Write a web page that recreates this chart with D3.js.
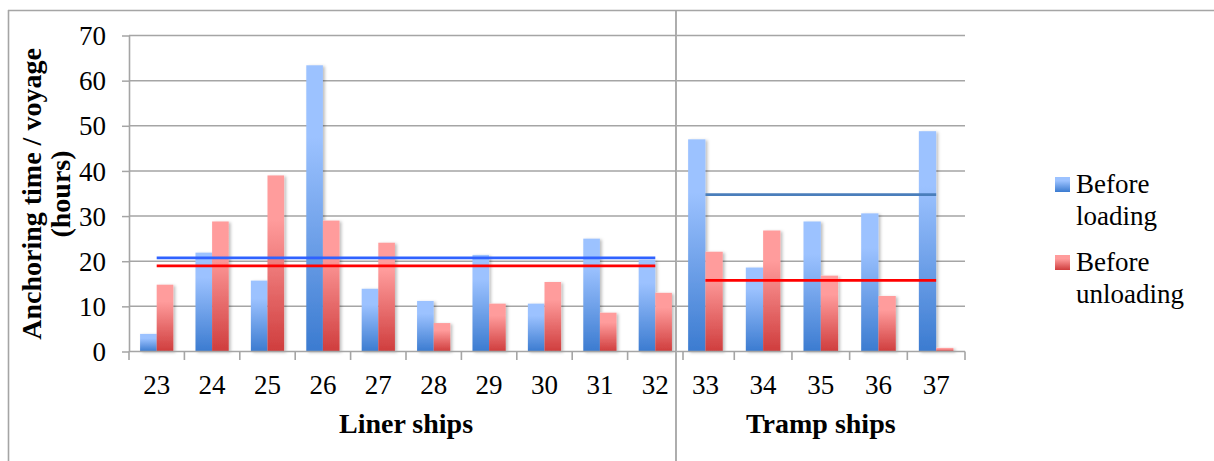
<!DOCTYPE html>
<html>
<head>
<meta charset="utf-8">
<script src="https://cdn.jsdelivr.net/npm/d3@7"></script>
<style>
  html, body { margin: 0; padding: 0; background: #fff; }
  svg { display: block; }
  text { font-family: "Liberation Serif", "Times New Roman", serif; fill: #000; }
</style>
</head>
<body>
<svg id="chart" width="1214" height="461"></svg>
<script>
// Anchoring time per voyage (hours), by ship
const linerShips = ["23", "24", "25", "26", "27", "28", "29", "30", "31", "32"];
const trampShips = ["33", "34", "35", "36", "37"];
const linerBeforeLoading   = [3.9, 21.9, 15.7, 63.4, 13.9, 11.2, 21.4, 10.6, 25.0, 20.3];
const linerBeforeUnloading = [14.8, 28.8, 39.0, 29.0, 24.1, 6.3, 10.6, 15.4, 8.6, 13.0];
const trampBeforeLoading   = [47.0, 18.6, 28.8, 30.6, 48.8];
const trampBeforeUnloading = [22.1, 26.8, 16.8, 12.3, 0.8];
const seriesNames = ["Before loading", "Before unloading"];
const yTicks = [0, 10, 20, 30, 40, 50, 60, 70];
const groupTitles = ["Liner ships", "Tramp ships"];
const yTitle = ["Anchoring time / voyage", "(hours)"];

const svg = d3.select("#chart");
const grid = "#a5a5a5";
const serif = "'Liberation Serif', 'Times New Roman', serif";

// gradients and soft shadow for the bars
const defs = svg.append("defs");
function grad(id, top, bottom) {
  const g = defs.append("linearGradient").attr("id", id)
    .attr("x1", 0).attr("y1", 0).attr("x2", 0).attr("y2", 1);
  g.append("stop").attr("offset", "0%").attr("stop-color", top);
  g.append("stop").attr("offset", "25%").attr("stop-color", top);
  g.append("stop").attr("offset", "100%").attr("stop-color", bottom);
}
grad("gBlue", "#9cc2ff", "#3b7bd0");
grad("gRed", "#ff9c9c", "#cf3d3d");
const fl = defs.append("filter").attr("id", "shadow")
  .attr("x", "-30%").attr("y", "-10%").attr("width", "160%").attr("height", "130%");
fl.append("feDropShadow").attr("dx", 2).attr("dy", 1).attr("stdDeviation", 1.6)
  .attr("flood-color", "#000").attr("flood-opacity", 0.25);
const fills = ["url(#gBlue)", "url(#gRed)"];

// outer frame (top and left edges) and the group divider
const dividerX = 676;
svg.append("line").attr("x1", 8).attr("x2", 1214).attr("y1", 10.5).attr("y2", 10.5)
  .attr("stroke", grid).attr("stroke-width", 1.6);
svg.append("line").attr("x1", 8.5).attr("x2", 8.5).attr("y1", 10).attr("y2", 461)
  .attr("stroke", grid).attr("stroke-width", 1.6);

// scales
const y = d3.scaleLinear().domain([0, 70]).range([351.5, 35.5]);
const groups = [
  { ships: linerShips, load: linerBeforeLoading, unload: linerBeforeUnloading,
    range: [129, 683], gridRange: [129, dividerX], title: groupTitles[0],
    meanColors: ["#2f62ff", "#ff0000"] },
  { ships: trampShips, load: trampBeforeLoading, unload: trampBeforeUnloading,
    range: [dividerX + 0.6, 965], gridRange: [dividerX + 1, 965], title: groupTitles[1],
    meanColors: ["#4a7ebb", "#ff0000"] }
];

groups.forEach(gr => {
  const xb = d3.scaleBand().domain(gr.ships).range(gr.range).padding(0);
  const x = d3.scaleBand().domain(gr.ships).range(gr.range).paddingInner(0.4).paddingOuter(0.2);
  const xs = d3.scaleBand().domain(seriesNames).range([0, x.bandwidth()]);

  // horizontal gridlines
  svg.append("g").selectAll("line").data(yTicks.slice(1)).join("line")
    .attr("x1", gr.gridRange[0]).attr("x2", gr.gridRange[1])
    .attr("y1", d => y(d)).attr("y2", d => y(d))
    .attr("stroke", grid).attr("stroke-width", 1.5);

  // bars
  const rows = gr.ships.map((s, i) => ({ ship: s, vals: [gr.load[i], gr.unload[i]] }));
  const bars = svg.append("g").attr("filter", "url(#shadow)");
  rows.forEach(r => {
    r.vals.forEach((v, k) => {
      bars.append("rect")
        .attr("x", x(r.ship) + xs(seriesNames[k]))
        .attr("width", xs.bandwidth())
        .attr("y", y(v))
        .attr("height", y(0) - y(v))
        .attr("fill", fills[k]);
    });
  });

  // x axis line and boundary ticks
  svg.append("line").attr("x1", gr.gridRange[0]).attr("x2", gr.gridRange[1])
    .attr("y1", y(0)).attr("y2", y(0)).attr("stroke", grid).attr("stroke-width", 1.6);
  const bounds = gr.ships.map(s => xb(s)).concat([xb(gr.ships[gr.ships.length - 1]) + xb.bandwidth()]);
  svg.append("g").selectAll("line").data(bounds.filter(b => Math.abs(b - dividerX) > 4)).join("line")
    .attr("x1", d => d).attr("x2", d => d)
    .attr("y1", y(0)).attr("y2", y(0) + 8.5)
    .attr("stroke", grid).attr("stroke-width", 1.6);

  // category labels
  const ax = d3.axisBottom(xb).tickSize(0).tickPadding(0);
  const axg = svg.append("g").attr("transform", `translate(0,${y(0)})`).call(ax)
    .attr("font-family", serif);
  axg.select(".domain").remove();
  axg.selectAll("text").attr("y", 42.5).attr("dy", null)
    .style("font-size", "27px").style("font-family", serif).attr("fill", "#000");

  // group title
  svg.append("text").attr("x", (gr.range[0] + gr.range[1]) / 2).attr("y", 433)
    .attr("text-anchor", "middle").style("font-family", serif)
    .style("font-size", "28px").style("font-weight", "bold")
    .text(gr.title);

  // mean lines for each series
  const x0 = xb(gr.ships[0]) + xb.bandwidth() / 2;
  const x1 = xb(gr.ships[gr.ships.length - 1]) + xb.bandwidth() / 2;
  [gr.load, gr.unload].forEach((vals, k) => {
    const m = d3.mean(vals);
    svg.append("line").attr("x1", x0).attr("x2", x1)
      .attr("y1", y(m)).attr("y2", y(m))
      .attr("stroke", gr.meanColors[k]).attr("stroke-width", 2.6);
  });
});

// divider between liner and tramp ships
svg.append("line").attr("x1", dividerX).attr("x2", dividerX).attr("y1", 10).attr("y2", 461)
  .attr("stroke", grid).attr("stroke-width", 1.8);

// y axis
const yAxis = d3.axisLeft(y).tickValues(yTicks).tickSize(7).tickPadding(16).tickSizeOuter(0);
const yg = svg.append("g").attr("transform", "translate(129,0)").call(yAxis)
  .attr("font-family", serif);
yg.select(".domain").attr("stroke", grid).attr("stroke-width", 1.6);
yg.selectAll(".tick line").attr("stroke", grid).attr("stroke-width", 1.5);
yg.selectAll("text").style("font-size", "27px").style("font-family", serif)
  .attr("fill", "#000").attr("dy", "0.34em");

// y axis title (two lines, rotated)
const yt = svg.append("text").attr("transform", "translate(0,194) rotate(-90)")
  .attr("text-anchor", "middle").style("font-family", serif)
  .style("font-size", "28px").style("font-weight", "bold");
yt.append("tspan").attr("x", 0).attr("y", 41).text(yTitle[0]);
yt.append("tspan").attr("x", 0).attr("y", 70).text(yTitle[1]);

// legend
const legend = svg.append("g").attr("font-family", serif);
const legendRows = [
  { fill: fills[0], lines: ["Before", "loading"], y: 177 },
  { fill: fills[1], lines: ["Before", "unloading"], y: 255 }
];
legendRows.forEach(r => {
  legend.append("rect").attr("x", 1055).attr("y", r.y).attr("width", 15).attr("height", 15)
    .attr("fill", r.fill);
  r.lines.forEach((t, i) => {
    legend.append("text").attr("x", 1076).attr("y", r.y + 16 + i * 31.5)
      .style("font-family", serif).style("font-size", "27px").text(t);
  });
});
</script>
</body>
</html>
